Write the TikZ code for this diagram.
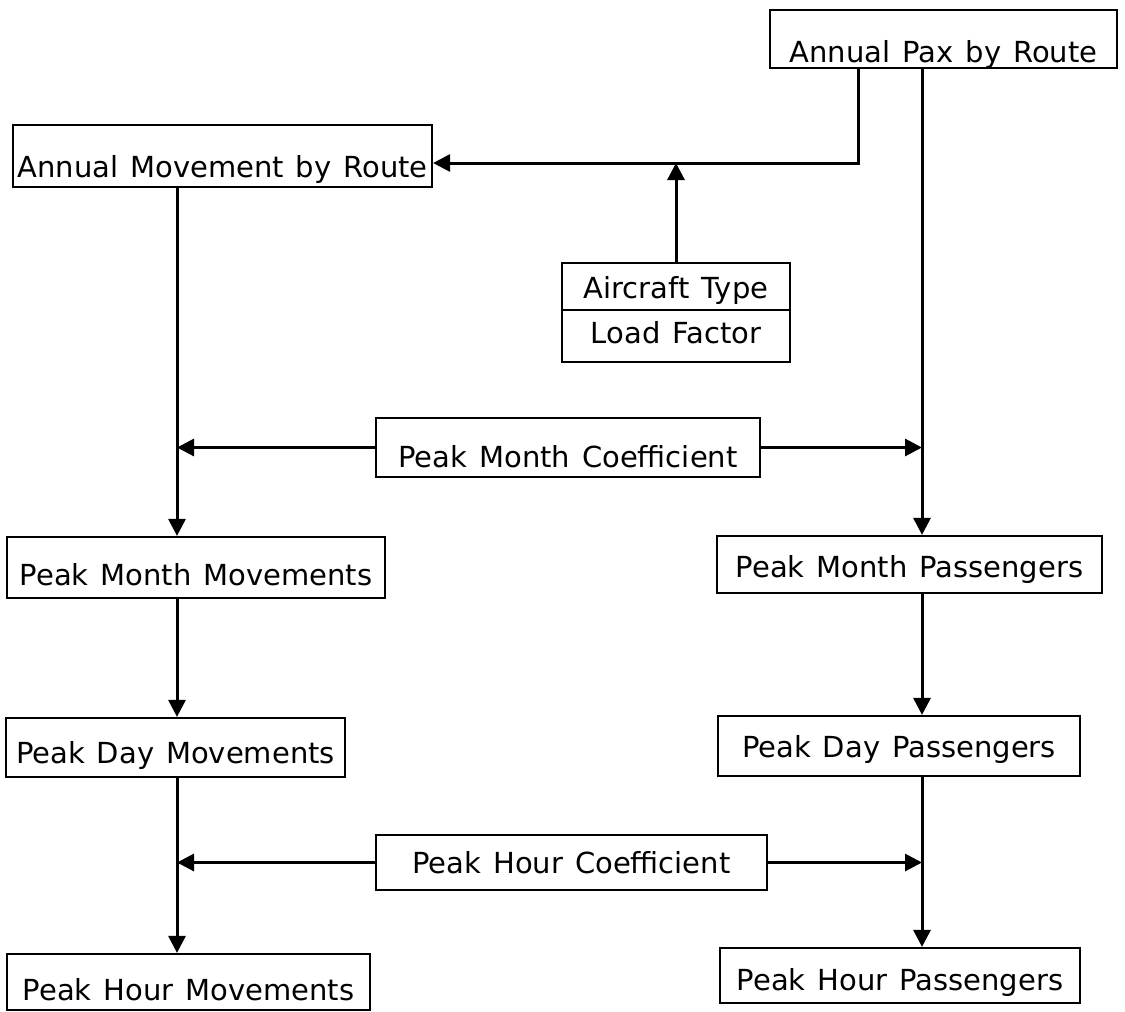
\documentclass[tikz,border=0pt]{standalone}
\usepackage{fontspec}
\setmainfont{DejaVu Sans}[WordSpace=1.3]
\usetikzlibrary{arrows.meta}
\begin{document}
\begin{tikzpicture}[x=0.5pt,y=-0.5pt,
  box/.style={draw, line width=1.1pt, inner sep=0pt, anchor=base, font=\fontsize{14.5pt}{17pt}\selectfont},
  arr/.style={line width=1.5pt, -{Triangle[length=8.5pt,width=8.5pt]}}]
\useasboundingbox (0,0) rectangle (1125,1012);
% boxes
\node[box, minimum width=173.5pt, text height=26pt, text depth=3pt] (pax) at (943.5,62) {Annual Pax by Route};
\node[box, minimum width=209.5pt, text height=26pt, text depth=5pt] (amov) at (222.5,177) {Annual Movement by Route};
\node[box, minimum width=114pt, text height=17.5pt, text depth=6pt] (ac1) at (676,298) {Aircraft Type};
\node[box, minimum width=114pt, text height=16.5pt, text depth=9.5pt] (ac2) at (676,343) {Load Factor};
\node[box, minimum width=192pt, text height=24.5pt, text depth=5pt] (pmc) at (568,467) {Peak Month Coefficient};
\node[box, minimum width=189pt, text height=24pt, text depth=6.5pt] (pmm) at (196,585) {Peak Month Movements};
\node[box, minimum width=192.5pt, text height=20.5pt, text depth=8pt] (pmp) at (909.5,577) {Peak Month Passengers};
\node[box, minimum width=169.5pt, text height=22.5pt, text depth=7pt] (pdm) at (175.5,763) {Peak Day Movements};
\node[box, minimum width=181pt, text height=20.5pt, text depth=9.5pt] (pdp) at (899,757) {Peak Day Passengers};
\node[box, minimum width=195.5pt, text height=19pt, text depth=8.5pt] (phc) at (571.5,873) {Peak Hour Coefficient};
\node[box, minimum width=181.5pt, text height=23pt, text depth=5pt] (phm) at (188.5,1000) {Peak Hour Movements};
\node[box, minimum width=180pt, text height=21pt, text depth=6.5pt] (php) at (900,990) {Peak Hour Passengers};
% guide coordinates
\coordinate (j1) at (858,163);
\coordinate (lx) at (177,0);
\coordinate (rx) at (922,0);
% connectors
\draw[arr] (pax.south -| j1) -- (j1) -- (amov.east |- j1);
\draw[arr] (ac1.north) -- (ac1.north |- j1);
\draw[arr] (pax.south -| rx) -- (pmp.north -| rx);
\draw[arr] (amov.south -| lx) -- (pmm.north -| lx);
\draw[arr] (pmc.west) -- (pmc.west -| lx);
\draw[arr] (pmc.east) -- (pmc.east -| rx);
\draw[arr] (pmm.south -| lx) -- (pdm.north -| lx);
\draw[arr] (pmp.south -| rx) -- (pdp.north -| rx);
\draw[arr] (pdm.south -| lx) -- (phm.north -| lx);
\draw[arr] (pdp.south -| rx) -- (php.north -| rx);
\draw[arr] (phc.west) -- (phc.west -| lx);
\draw[arr] (phc.east) -- (phc.east -| rx);
\end{tikzpicture}
\end{document}
